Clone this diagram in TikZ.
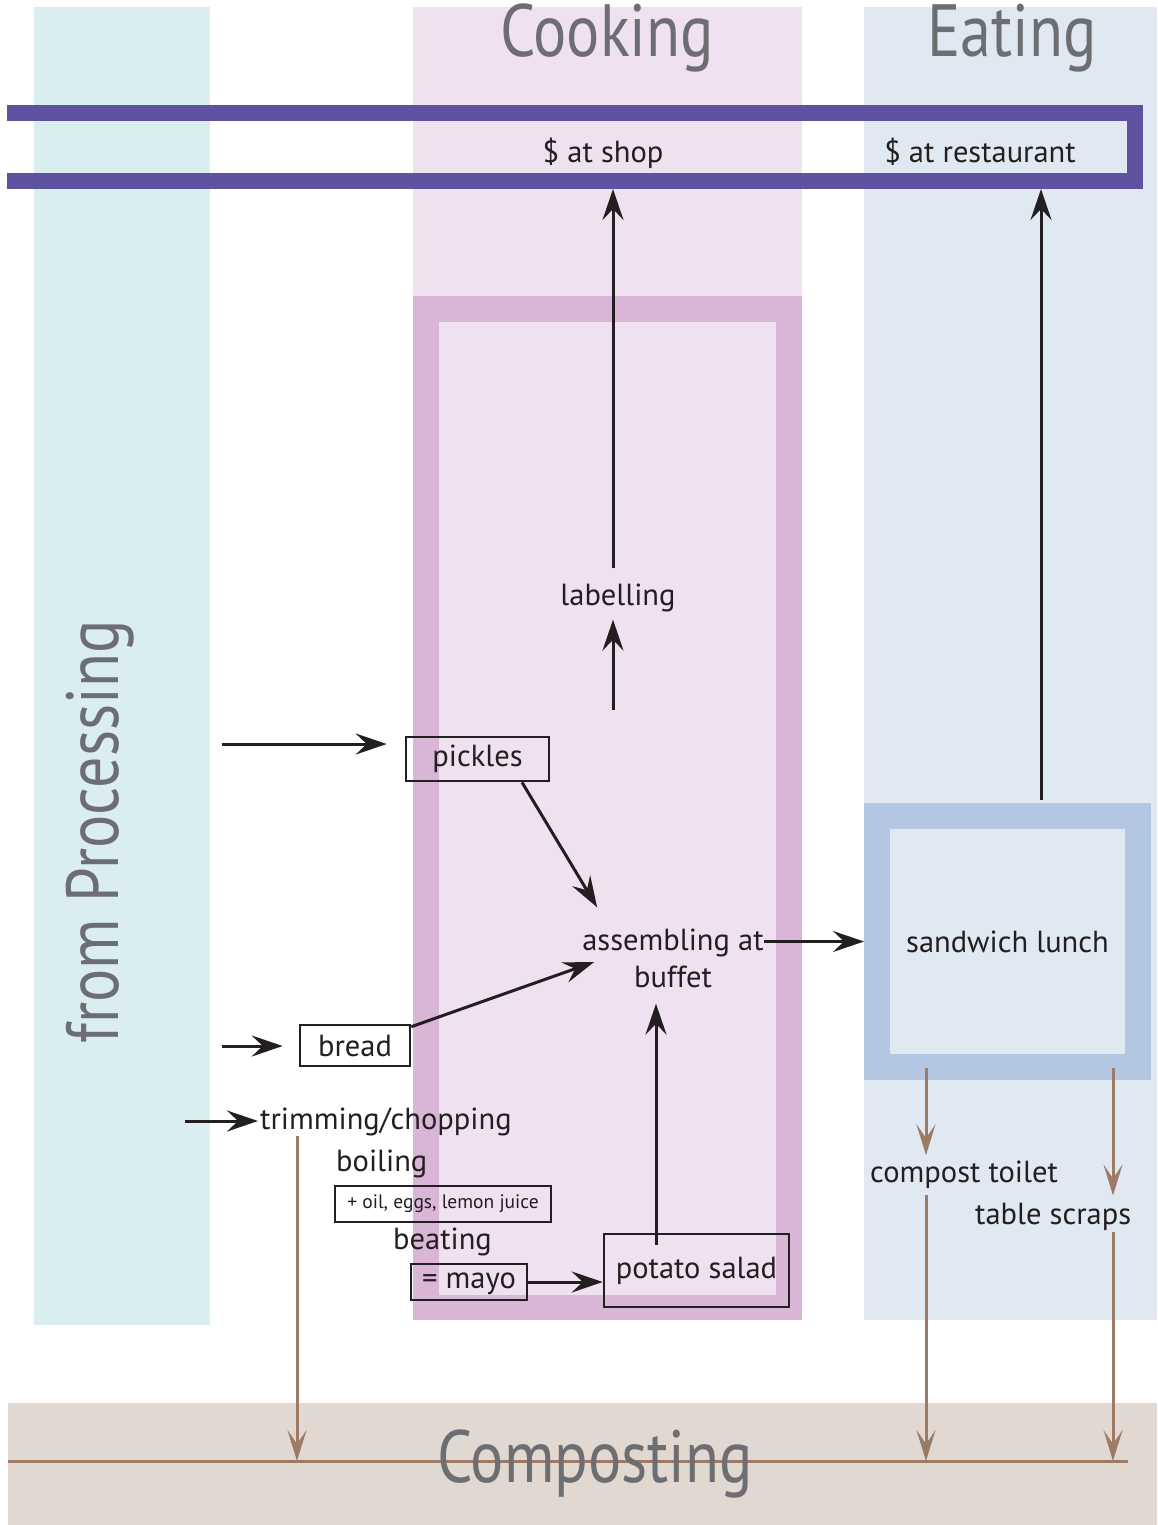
\documentclass[tikz,border=0pt]{standalone}
\usepackage{fontspec}
\usetikzlibrary{arrows.meta}
\newfontfamily\bodyff{PT Sans}
\newfontfamily\headff[FakeStretch=0.84]{PT Sans}
\newcommand\myBody{\bodyff\fontsize{30.5}{37}\selectfont}
\newcommand\mySmall{\bodyff\fontsize{19.5}{24}\selectfont}
\newcommand\myHead{\headff\fontsize{74}{80}\selectfont}
\definecolor{procbg}{HTML}{DAEEF2}
\definecolor{cookbg}{HTML}{F0E1F0}
\definecolor{cookfr}{HTML}{D9B5D6}
\definecolor{eatbg}{HTML}{E0E8F2}
\definecolor{sandfr}{HTML}{B3C6E2}
\definecolor{money}{HTML}{5F52A0}
\definecolor{compbg}{HTML}{E0D8D1}
\definecolor{soil}{HTML}{9B7B66}
\definecolor{headgray}{HTML}{6D6E71}
\definecolor{ink}{HTML}{231F20}
\tikzset{
  txt/.style={font=\myBody, text=ink, inner sep=0pt},
  boxed/.style={txt, draw=ink, line width=2.6pt},
  head/.style={font=\myHead, text=headgray, inner sep=0pt},
  arr/.style={draw=ink, line width=3pt, -{Stealth[length=31pt,width=21pt,inset=11pt]}},
  barr/.style={draw=soil, line width=3pt, -{Stealth[length=31pt,width=19pt,inset=14pt]}},
  soilline/.style={draw=soil, line width=3pt},
}
\begin{document}
\begin{tikzpicture}[x=1pt,y=-1pt]
\useasboundingbox (0,0) rectangle (1157,1525);
% backgrounds
\fill[procbg] (34,7) rectangle (210,1325);
\fill[cookbg] (413,7) rectangle (802,1320);
\fill[cookfr] (413,296) rectangle (802,1320);
\fill[cookbg] (439,322) rectangle (776,1295);
\fill[eatbg] (864,7) rectangle (1157,1320);
\fill[compbg] (8,1403) rectangle (1157,1525);
% money frame
\fill[money] (7,105) rectangle (1143,121);
\fill[money] (7,173) rectangle (1143,189);
\fill[money] (1127,105) rectangle (1143,189);
\coordinate (shopIn) at (613,189);
\coordinate (restIn) at (1041,189);
% composting line
\coordinate (cL) at (8,1461);
\coordinate (cR) at (1128,1461);
\draw[soilline] (cL) -- (cR);
% headings
\node[head, anchor=base] (cookH) at (607,57) {Cooking};
\node[head, anchor=base] (eatH) at (1012,57) {Eating};
\node[head, anchor=base] (compH) at (595,1482) {Composting};
\node[head, anchor=base, rotate=90] (procH) at (118,832) {from Processing};
% texts
\node[txt, anchor=base] (shop) at (603,163) {\$ at shop};
\node[txt, anchor=base] (rest) at (980,163) {\$ at restaurant};
\node[txt, anchor=base] (lab) at (618,605) {labelling};
\node[boxed, minimum width=143pt, minimum height=44pt] (pick) at (477.5,759) {pickles};
\node[txt, align=center] (asm) at (673,958) {assembling at\\buffet};
\node[boxed, minimum width=110pt, minimum height=41pt] (bread) at (355,1045.5) {bread};
\node[txt, draw=sandfr, fill=eatbg, line width=26pt, minimum width=261pt, minimum height=251pt] (sand) at (1007.5,941.5) {sandwich lunch};
\node[txt, anchor=base west] (trim) at (260,1129) {trimming/chopping};
\node[txt, anchor=base west] (boil) at (336,1171) {boiling};
\node[boxed, font=\mySmall, minimum width=216pt, minimum height=36pt] (oil) at (443,1204) {+ oil, eggs, lemon juice};
\node[txt, anchor=base west] (beat) at (393,1249) {beating};
\node[boxed, minimum width=116pt, minimum height=36pt, text depth=2pt] (mayo) at (469,1282) {= mayo};
\node[boxed, minimum width=185pt, minimum height=73pt] (pot) at (696.5,1270.5) {potato salad};
\node[txt, anchor=base west] (toil) at (870,1182) {compost toilet};
\node[txt, anchor=base west] (scr) at (975,1224) {table scraps};
% black arrows
\coordinate (pIn) at (222,744);
\draw[arr, shorten >=18pt] (pIn) -- (pIn -| pick.west);
\coordinate (bIn) at (222,1046);
\draw[arr, shorten >=16pt] (bIn) -- (bIn -| bread.west);
\coordinate (tIn) at (185,1121);
\draw[arr, shorten >=2pt] (tIn) -- (tIn -| trim.west);
\draw[arr] ([xshift=44.5pt]pick.south) -- ([xshift=15pt,yshift=21pt]asm.north west);
\draw[arr] ([yshift=-3pt]bread.north east) -- ([xshift=12pt,yshift=-4pt]asm.west);
\path ([xshift=-40.5pt,yshift=-12pt]pot.north) coordinate (potOut);
\draw[arr, shorten >=16pt] (potOut) -- (potOut |- asm.south);
\draw[arr] (mayo.east) -- (mayo.east -| pot.west);
\draw[arr] (asm.east |- sand.west) -- (sand.west);
\coordinate (labIn) at (613,710);
\draw[arr, shorten >=8pt] (labIn) -- (labIn |- lab.south);
\path ([yshift=15pt]lab.north) coordinate (labTop);
\draw[arr] (labTop -| labIn) -- (shopIn);
\path ([yshift=3pt]sand.north) coordinate (sandTop);
\draw[arr] (sandTop -| restIn) -- (restIn);
% brown arrows
\path ([xshift=37pt]trim.south west) coordinate (trimOut);
\draw[barr] (trimOut) -- (trimOut |- cL);
\path ([xshift=-81.5pt,yshift=12pt]sand.south) coordinate (sOut1);
\path ([xshift=105.5pt,yshift=12pt]sand.south) coordinate (sOut2);
\draw[barr, shorten >=5pt] (sOut1) -- (sOut1 |- toil.north);
\draw[barr, shorten <=7pt] (sOut1 |- toil.south) -- (sOut1 |- cL);
\draw[barr, shorten >=7pt] (sOut2) -- (sOut2 |- scr.north);
\draw[barr, shorten <=2pt] (sOut2 |- scr.south) -- (sOut2 |- cL);
\end{tikzpicture}
\end{document}
